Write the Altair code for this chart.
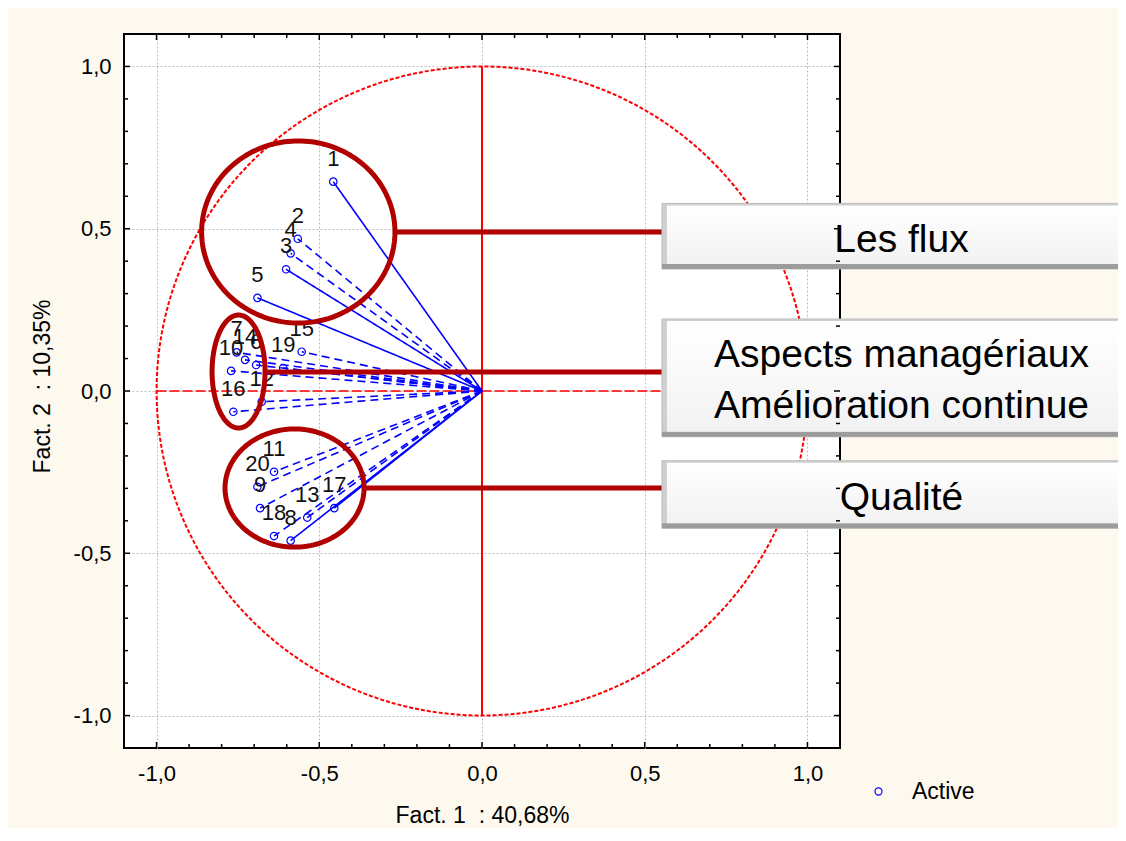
import altair as alt
import pandas as pd
import numpy as np

FONT = "Liberation Sans"

# ---- data ----
var_labels = ["1", "2", "3", "4", "5", "6", "7", "8", "9", "10",
              "11", "12", "13", "14", "15", "16", "17", "18", "19", "20"]
fact1 = [-0.457, -0.566, -0.602, -0.588, -0.690, -0.694, -0.754, -0.588, -0.682, -0.771,
         -0.639, -0.677, -0.537, -0.728, -0.554, -0.764, -0.454, -0.639, -0.611, -0.690]
fact2 = [0.645, 0.469, 0.375, 0.424, 0.287, 0.080, 0.119, -0.461, -0.361, 0.062,
         -0.249, -0.033, -0.390, 0.096, 0.121, -0.064, -0.361, -0.447, 0.071, -0.295]
trait = ["plein", "tirets", "plein", "tirets", "plein", "tirets", "tirets", "plein", "tirets", "tirets",
         "tirets", "tirets", "tirets", "tirets", "tirets", "tirets", "plein", "tirets", "tirets", "tirets"]

# annotation groups
group_lines = [["Les flux"], ["Aspects managériaux", "Amélioration continue"], ["Qualité"]]

# ---- annotation geometry (data units) ----
ell_cx = [-0.5645, -0.748, -0.576]
ell_cy = [0.490, 0.060, -0.299]
ell_rx = [0.297, 0.0814, 0.2136]
ell_ry = [0.2805, 0.174, 0.182]
conn_y = [0.490, 0.0585, -0.2985]
box_left = 0.553
box_right = 2.2
box_top = [0.578, 0.222, -0.215]
box_bottom = [0.376, -0.141, -0.423]
text_x = 1.289
text_base = [[0.4284], [0.0749, -0.0832], [-0.3667]]

W, H = 716, 714
DARK_RED = "#B00000"

pts = pd.DataFrame({"lab": var_labels, "f1": fact1, "f2": fact2, "trait": trait,
                    "kind": ["Active"] * len(var_labels), "o": [0.0] * len(var_labels)})

ang = np.linspace(0, 2 * np.pi, 181)
circle = pd.DataFrame({"i": np.arange(len(ang)), "cx": np.cos(ang), "cy": np.sin(ang)})

ell_rows = []
for k in range(3):
    for i, a in enumerate(ang):
        ell_rows.append({"g": k, "i": i,
                         "ex": ell_cx[k] + ell_rx[k] * np.cos(a),
                         "ey": ell_cy[k] + ell_ry[k] * np.sin(a)})
ell = pd.DataFrame(ell_rows)

conn = pd.DataFrame({"x1": [ell_cx[k] + ell_rx[k] for k in range(3)],
                     "x2": [box_left] * 3, "y": conn_y})
boxes = pd.DataFrame({"l": [box_left] * 3, "r": [box_right] * 3, "t": box_top, "b": box_bottom})
txt_rows = []
for k in range(3):
    for line, yb in zip(group_lines[k], text_base[k]):
        txt_rows.append({"t": line, "x": text_x, "y": yb})
txt = pd.DataFrame(txt_rows)

major = [-1.0, -0.5, 0.0, 0.5, 1.0]
all_ticks = [round(-1.0 + 0.1 * i, 1) for i in range(21)]
minor = [v for v in all_ticks if v not in major]

LABEL_EXPR = "(datum.value < 0 ? '-' : '') + replace(format(abs(datum.value), '.1f'), '.', ',')"

AX = alt.Axis(values=major, labelExpr=LABEL_EXPR, labelFontSize=22, labelFont=FONT,
              labelColor="black", labelPadding=15, labelFlush=False, ticks=False, tickSize=0,
              domain=False, grid=True, gridColor="#BDBDBD", gridDash=[2, 2], gridWidth=1,
              title="Fact. 1 \u00a0: 40,68%", titleFontSize=23, titleFont=FONT,
              titleFontWeight="normal", titleColor="black", titleBaseline="alphabetic",
              titleY=74, titleX=358, titleAlign="center")
AY = alt.Axis(values=major, labelExpr=LABEL_EXPR, labelFontSize=22, labelFont=FONT,
              labelColor="black", labelPadding=13, labelFlush=False, ticks=False, tickSize=0,
              domain=False, grid=True, gridColor="#BDBDBD", gridDash=[2, 2], gridWidth=1,
              title="Fact. 2 \u00a0: 10,35%", titleFontSize=23, titleFont=FONT,
              titleFontWeight="normal", titleColor="black", titleBaseline="alphabetic",
              titleAngle=270, titleX=-75, titleY=352, titleAlign="center")

XS = alt.Scale(domain=[-1.1, 1.1], nice=False, zero=False)
YS = alt.Scale(domain=[-1.1, 1.1], nice=False, zero=False)


def ex(f):
    return alt.X(f, type="quantitative", scale=XS, axis=AX)


def ey(f):
    return alt.Y(f, type="quantitative", scale=YS, axis=AY)


layers = []

# correlation circle
layers.append(alt.Chart(circle).mark_line(color="#FF0000", strokeWidth=2, strokeDash=[4, 2]).encode(
    x=ex("cx"), y=ey("cy"), order="i:Q"))

# red axes through origin
one = pd.DataFrame({"a": [-1.0], "b": [1.0], "z": [0.0]})
layers.append(alt.Chart(one).mark_rule(color="#FF0000", strokeWidth=2).encode(
    x=ex("z"), y=ey("a"), y2="b"))
layers.append(alt.Chart(one).mark_rule(color="#FF0000", strokeWidth=1.5, strokeDash=[10, 3]).encode(
    x=ex("a"), x2="b", y=ey("z")))

# vectors
layers.append(alt.Chart(pts).mark_rule(color="#0000FF", strokeWidth=1.6).encode(
    x=ex("o"), y=ey("o"), x2="f1", y2="f2",
    strokeDash=alt.StrokeDash("trait:N", scale=alt.Scale(domain=["plein", "tirets"],
                                                         range=[[1, 0], [8, 5]]), legend=None)))

# points with legend
layers.append(alt.Chart(pts).mark_point(shape="circle", filled=False, size=55, strokeWidth=1.2, opacity=1).encode(
    x=ex("f1"), y=ey("f2"),
    color=alt.Color("kind:N", scale=alt.Scale(domain=["Active"], range=["#0000FF"]),
                    legend=alt.Legend(orient="none", legendX=743, legendY=746, title=None,
                                      labelFontSize=23, labelFont=FONT, labelColor="black",
                                      symbolType="circle", symbolSize=50, symbolStrokeWidth=1.2,
                                      labelOffset=22, padding=0))))

# point labels
layers.append(alt.Chart(pts).mark_text(dy=-23, align="center", baseline="middle", fontSize=22,
                                       font=FONT, color="#111111").encode(
    x=ex("f1"), y=ey("f2"), text="lab:N"))

# annotation ellipses
layers.append(alt.Chart(ell).mark_line(color=DARK_RED, strokeWidth=5).encode(
    x=ex("ex"), y=ey("ey"), detail="g:N", order="i:Q"))

# connectors
layers.append(alt.Chart(conn).mark_rule(color=DARK_RED, strokeWidth=5).encode(
    x=ex("x1"), x2="x2", y=ey("y")))

# boxes
layers.append(alt.Chart(boxes).mark_rect(fill="#CFCFCF", stroke="#BDBDBD", strokeWidth=1).encode(
    x=ex("l"), x2="r", y=ey("t"), y2="b"))
layers.append(alt.Chart(boxes).mark_rect(fill="#9C9C9C", yOffset=-5).encode(
    x=ex("l"), x2="r", y=ey("b"), y2="b"))
layers.append(alt.Chart(boxes).mark_rect(
    fill={"gradient": "linear", "x1": 0, "y1": 0, "x2": 0, "y2": 1,
          "stops": [{"offset": 0, "color": "#FFFFFF"}, {"offset": 1, "color": "#F2F2F2"}]},
    xOffset=5, yOffset=2, y2Offset=-5).encode(
    x=ex("l"), x2="r", y=ey("t"), y2="b"))

layers.append(alt.Chart(txt).mark_text(align="center", baseline="alphabetic", fontSize=39,
                                       font=FONT, color="black").encode(
    x=ex("x"), y=ey("y"), text="t:N"))

# inward ticks on the frame
for vals, ln in ((major, 6), (minor, 4)):
    tdf = pd.DataFrame({"v": vals})
    layers.append(alt.Chart(tdf).mark_rule(color="black", strokeWidth=1.5).encode(
        x=ex("v"), y=alt.value(H), y2=alt.value(H - ln)))
    layers.append(alt.Chart(tdf).mark_rule(color="black", strokeWidth=1.5).encode(
        x=ex("v"), y=alt.value(0), y2=alt.value(ln)))
    layers.append(alt.Chart(tdf).mark_rule(color="black", strokeWidth=1.5).encode(
        y=ey("v"), x=alt.value(0), x2=alt.value(ln)))
    layers.append(alt.Chart(tdf).mark_rule(color="black", strokeWidth=1.5).encode(
        y=ey("v"), x=alt.value(W), x2=alt.value(W - ln)))

chart = alt.layer(*layers).properties(
    width=W, height=H,
    autosize=alt.AutoSizeParams(type="none"),
    padding={"left": 116, "top": 26, "right": 278, "bottom": 80},
    background="#FDF9EF",
).configure_view(stroke="black", strokeWidth=2, fill="white")

chart.save("out.html", embed_options={"renderer": "svg", "actions": False})
